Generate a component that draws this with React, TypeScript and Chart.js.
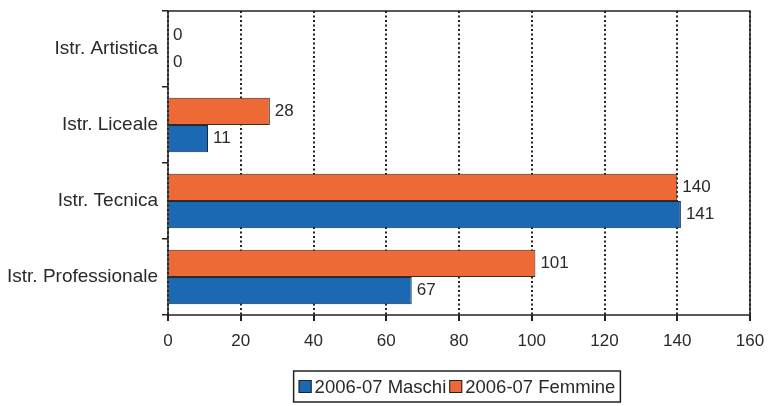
import React, { useEffect, useRef } from "react";
import { Chart, registerables } from "chart.js";

Chart.register(...registerables);

const categories = ["Istr. Artistica", "Istr. Liceale", "Istr. Tecnica", "Istr. Professionale"];
const maschi = [0, 11, 141, 67];
const femmine = [0, 28, 140, 101];
const seriesNames = ["2006-07 Femmine", "2006-07 Maschi"];
const xTicks = [0, 20, 40, 60, 80, 100, 120, 140, 160];

const ORANGE = "#ED6A37";
const BLUE = "#1A69B2";
const FONT = "'Liberation Sans', Arial, sans-serif";
const TXT = "#2a2a2a";

const framePlugin = {
  id: "frame",
  afterDatasetsDraw(chart: any) {
    const { ctx, chartArea } = chart;
    ctx.save();
    ctx.strokeStyle = "#222";
    ctx.lineWidth = 1.5;
    ctx.strokeRect(chartArea.left, chartArea.top, chartArea.right - chartArea.left, chartArea.bottom - chartArea.top);
    ctx.restore();
  },
};

const labelPlugin = {
  id: "valueLabels",
  afterDatasetsDraw(chart: any) {
    const { ctx } = chart;
    ctx.save();
    ctx.font = `17px ${FONT}`;
    ctx.fillStyle = TXT;
    ctx.textAlign = "left";
    ctx.textBaseline = "middle";
    chart.data.datasets.forEach((ds: any, di: number) => {
      const meta = chart.getDatasetMeta(di);
      meta.data.forEach((bar: any, i: number) => {
        ctx.fillText(String(ds.data[i]), bar.x + 5, bar.y);
      });
    });
    ctx.restore();
  },
};

const legendPlugin = {
  id: "boxLegend",
  afterDraw(chart: any) {
    const { ctx } = chart;
    ctx.save();
    ctx.font = `18.5px ${FONT}`;
    const items = chart.data.datasets.slice().reverse();
    const sq = 13;
    const gap = 3;
    const sep = 3;
    let total = 0;
    const widths = items.map((d: any) => ctx.measureText(d.label).width);
    widths.forEach((w: number) => (total += sq + gap + w));
    total += sep * (items.length - 1);
    const padX = 5;
    const boxW = total + padX * 2;
    const cx = 457;
    const left = cx - boxW / 2;
    const top = 371;
    const h = 31;
    ctx.strokeStyle = "#222";
    ctx.lineWidth = 1.5;
    ctx.strokeRect(left, top, boxW, h);
    let x = left + padX;
    const cy = top + h / 2;
    items.forEach((d: any, i: number) => {
      ctx.fillStyle = d.backgroundColor;
      ctx.fillRect(x, cy - sq / 2, sq, sq);
      ctx.strokeStyle = "#222";
      ctx.lineWidth = 1;
      ctx.strokeRect(x + 0.5, cy - sq / 2 + 0.5, sq - 1, sq - 1);
      x += sq + gap;
      ctx.fillStyle = TXT;
      ctx.textBaseline = "middle";
      ctx.fillText(d.label, x, cy + 1);
      x += widths[i] + sep;
    });
    ctx.restore();
  },
};

export default function App() {
  const ref = useRef<HTMLCanvasElement>(null);
  useEffect(() => {
    document.body.style.margin = "0";
    const chart = new Chart(ref.current!, {
      type: "bar",
      data: {
        labels: categories,
        datasets: [
          {
            label: seriesNames[0],
            data: femmine,
            backgroundColor: ORANGE,
            borderColor: "#3a2a20",
            borderWidth: 1,
            categoryPercentage: 0.72,
            barPercentage: 1,
          },
          {
            label: seriesNames[1],
            data: maschi,
            backgroundColor: BLUE,
            borderColor: "#1a2a3a",
            borderWidth: 1,
            categoryPercentage: 0.72,
            barPercentage: 1,
          },
        ],
      },
      options: {
        indexAxis: "y",
        animation: false,
        responsive: false,
        layout: { padding: { left: 0, right: 18, top: 11, bottom: 0 } },
        plugins: { legend: { display: false }, tooltip: { enabled: false } },
        scales: {
          x: {
            min: 0,
            max: 160,
            afterBuildTicks(scale: any) {
              scale.ticks = xTicks.map((v) => ({ value: v }));
            },
            afterFit(scale: any) {
              scale.height = 91;
              scale.paddingRight = 0;
              scale.paddingLeft = 0;
            },
            grid: {
              color: "#222",
              lineWidth: 2,
              tickLength: 6,
              tickColor: "#222",
              tickBorderDash: [],
            } as any,
            border: { display: false, dash: [2, 2.5] },
            ticks: {
              color: TXT,
              font: { family: FONT, size: 17 },
              padding: 10,
              maxRotation: 0,
            },
          },
          y: {
            afterFit(scale: any) {
              scale.width = 168;
              scale.paddingTop = 0;
              scale.paddingBottom = 0;
            },
            grid: {
              drawOnChartArea: false,
              tickLength: 6,
              tickColor: "#222",
              lineWidth: 1.5,
            },
            border: { display: false },
            ticks: {
              color: TXT,
              font: { family: FONT, size: 19 },
              padding: 4,
            },
          },
        },
      },
      plugins: [framePlugin, labelPlugin, legendPlugin],
    });
    return () => chart.destroy();
  }, []);
  return (
    <div style={{ width: 768, height: 406 }}>
      <canvas ref={ref} width={768} height={406} />
    </div>
  );
}
